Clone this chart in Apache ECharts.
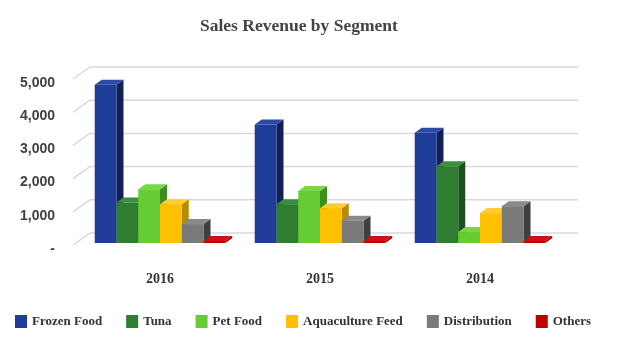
<!DOCTYPE html>
<html>
<head>
<meta charset="utf-8">
<script src="https://cdn.jsdelivr.net/npm/echarts@6/dist/echarts.min.js"></script>
<style>
html,body{margin:0;padding:0;background:#fff;}
#container{width:640px;height:354px;}
</style>
</head>
<body>
<div id="container"></div>
<script>
var years = ['2016', '2015', '2014'];
var segments = ['Frozen Food', 'Tuna', 'Pet Food', 'Aquaculture Feed', 'Distribution', 'Others'];
var frozenFood = [4800, 3600, 3350];
var tuna = [1250, 1200, 2340];
var petFood = [1650, 1600, 360];
var aquaFeed = [1200, 1080, 930];
var distribution = [600, 700, 1140];
var others = [90, 90, 90];
var yTicks = [0, 1000, 2000, 3000, 4000, 5000];

var values = [frozenFood, tuna, petFood, aquaFeed, distribution, others];
// front, side, top colours for each segment
var faces = [
	['#1f3d99', '#141f55', '#2c4aa8'],
	['#2e7d32', '#1b4f1e', '#3a8f3e'],
	['#66cc33', '#3f8f1f', '#76d845'],
	['#ffc000', '#b88a00', '#ffcc33'],
	['#7a7a7a', '#3f3f3f', '#8a8a8a'],
	['#c00000', '#7a0000', '#d01010']
];
var dx = 7, dy = -5;

function barSeries(idx){
	return {
		name: segments[idx],
		type: 'custom',
		z: 3,
		itemStyle: {color: faces[idx][0]},
		data: values[idx].map(function(v, i){ return [i, v]; }),
		renderItem: function(params, api){
			var c = api.value(0), v = api.value(1);
			var base = api.coord([c, 0]);
			var top = api.coord([c, v]);
			var bw = api.size([1, 0])[0] * 0.136;
			var x0 = base[0] + (idx - 3) * bw, x1 = x0 + bw;
			var yb = base[1] - 1, yt = top[1];
			return {
				type: 'group',
				children: [
					{type: 'polygon', shape: {points: [[x1, yt], [x1 + dx, yt + dy], [x1 + dx, yb + dy], [x1, yb]]},
						style: {fill: faces[idx][1]}},
					{type: 'polygon', shape: {points: [[x0, yt], [x0 + dx, yt + dy], [x1 + dx, yt + dy], [x1, yt]]},
						style: {fill: faces[idx][2]}},
					{type: 'rect', shape: {x: x0, y: yt, width: bw, height: yb - yt},
						style: {fill: faces[idx][0]}}
				]
			};
		}
	};
}

var series = [{
	type: 'custom',
	z: 1,
	silent: true,
	data: yTicks.map(function(v){ return [0, v]; }),
	renderItem: function(params, api){
		var y = api.coord([0, api.value(1)])[1];
		var left = params.coordSys.x, right = params.coordSys.x + params.coordSys.width;
		return {
			type: 'polyline',
			shape: {points: [[left - 7, y + 1], [left + 10, y - 11], [right + 18, y - 11]]},
			style: {stroke: '#d9d9d9', lineWidth: 1.5, fill: null}
		};
	}
}];
for (var s = 0; s < segments.length; ++s) {
	series.push(barSeries(s));
}

var myChart = echarts.init(document.getElementById('container'));
var option = {
	backgroundColor: '#fff',
	title: {
		text: 'Sales Revenue by Segment',
		left: 195,
		top: 12,
		textStyle: {fontFamily: 'Liberation Serif', fontWeight: 'bold', fontSize: 17.5, color: '#444'}
	},
	legend: {
		data: segments,
		left: 10,
		top: 310,
		icon: 'rect',
		itemWidth: 12,
		itemHeight: 13,
		itemGap: 24,
		textStyle: {fontFamily: 'Liberation Serif', fontWeight: 'bold', fontSize: 13, color: '#333'}
	},
	grid: {left: 80, right: 80, top: 78, bottom: 110},
	xAxis: {
		type: 'category',
		data: years,
		axisLine: {show: false},
		axisTick: {show: false},
		axisLabel: {margin: 28, fontFamily: 'Liberation Serif', fontWeight: 'bold', fontSize: 14, color: '#333'}
	},
	yAxis: {
		type: 'value',
		min: 0,
		max: 5000,
		interval: 1000,
		splitLine: {show: false},
		axisLine: {show: false},
		axisTick: {show: false},
		axisLabel: {
			margin: 25,
			verticalAlign: 'top',
			lineHeight: 10,
			fontFamily: 'Liberation Sans', fontWeight: 'bold', fontSize: 14, color: '#404040',
			formatter: function(v){ return v === 0 ? '-' : v.toLocaleString('en-US'); }
		}
	},
	series: series
};
myChart.setOption(option);
</script>
</body>
</html>
